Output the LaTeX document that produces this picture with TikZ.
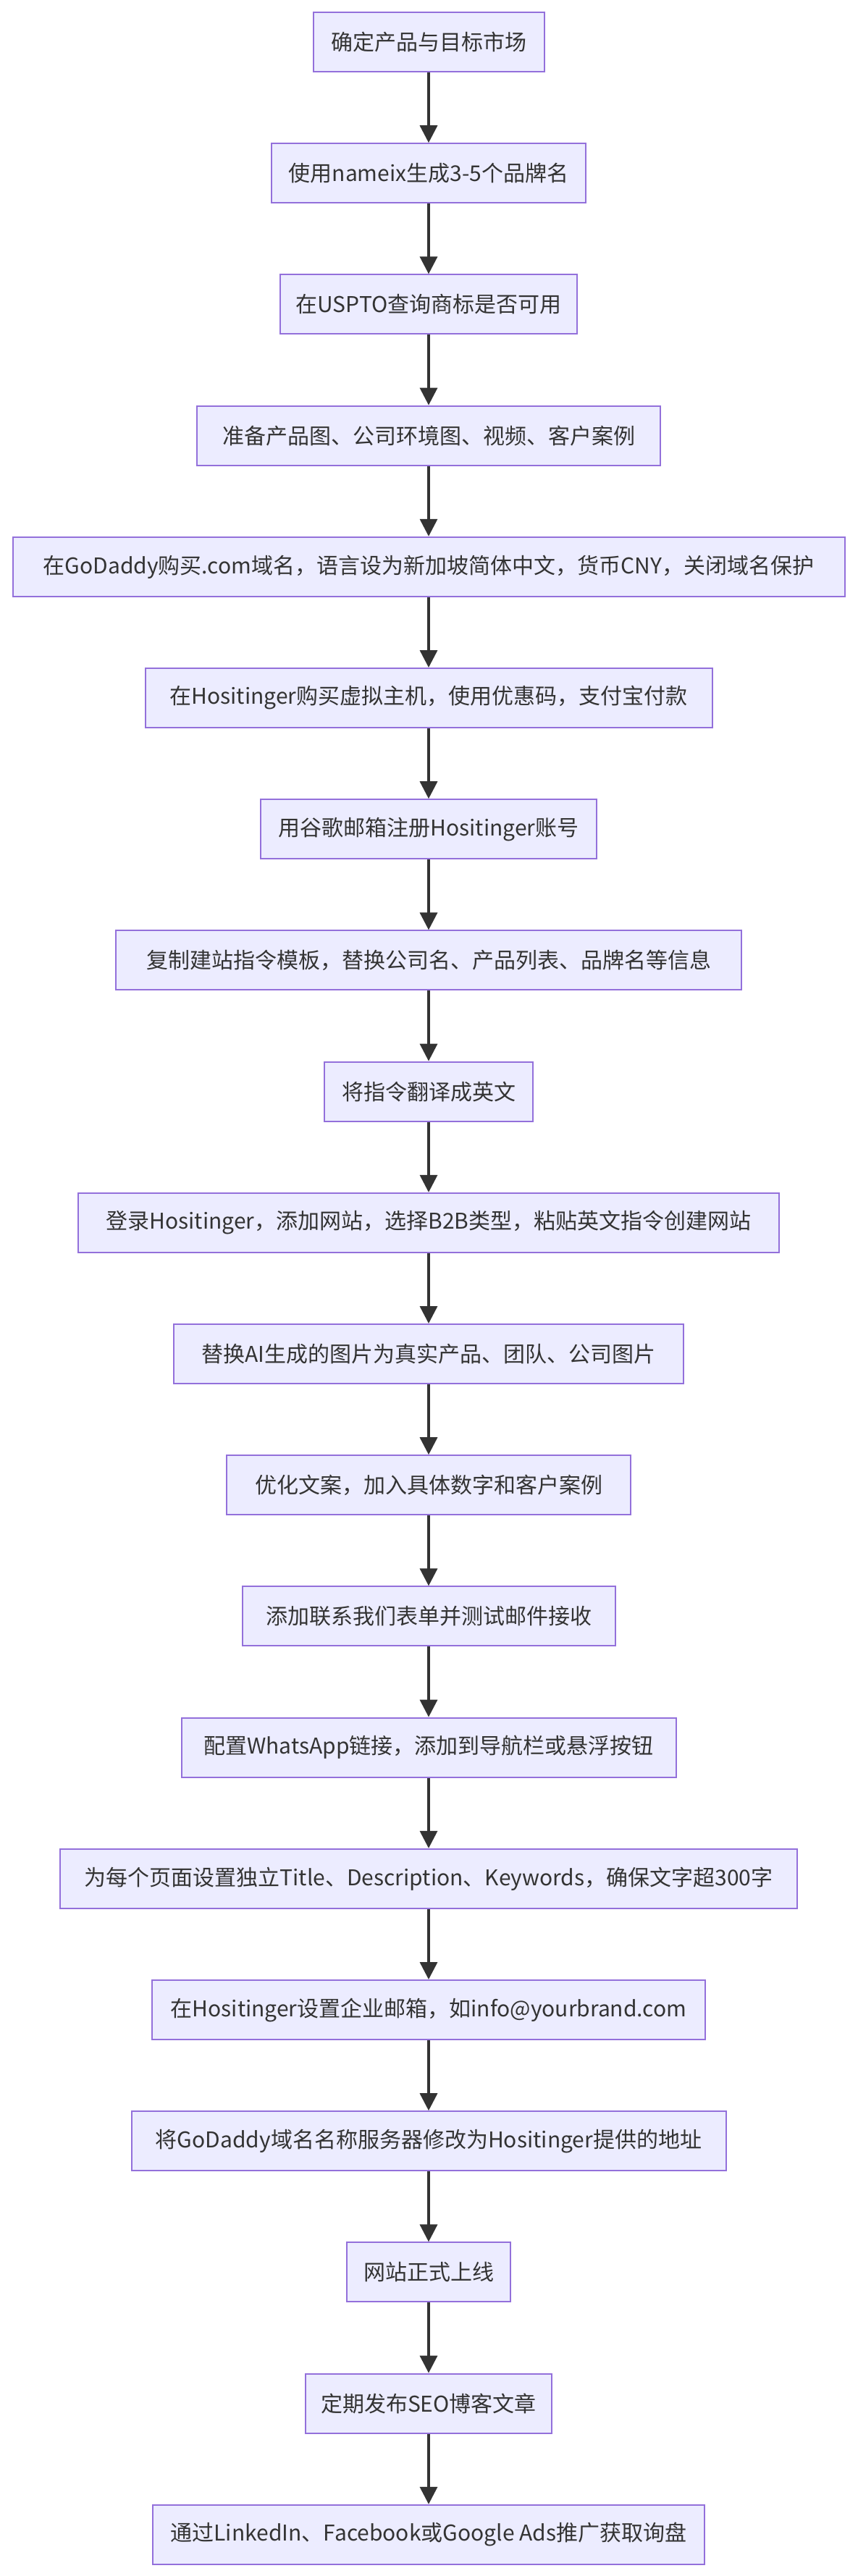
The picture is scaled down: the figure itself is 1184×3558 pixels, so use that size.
\documentclass[tikz,border=0pt]{standalone}
\usepackage{fontspec}
\setmainfont{Noto Sans CJK SC}
\usetikzlibrary{arrows.meta}
\definecolor{boxfill}{HTML}{ECECFF}
\definecolor{boxline}{HTML}{9370DB}
\definecolor{ink}{HTML}{333333}
\begin{document}
\begin{tikzpicture}[x=1pt,y=-1pt,
  stepbox/.style={draw=boxline, fill=boxfill, line width=2pt, minimum height=82pt,
    inner xsep=14pt, inner ysep=0pt, text=ink, font=\fontsize{30}{36}\selectfont, anchor=center},
  flow/.style={draw=ink, line width=3.5pt, -{Triangle[length=24pt,width=24pt]}}]
\useasboundingbox (0,0) rectangle (1184,3558);
\def\sp{181.2}
\node[stepbox, minimum width=319pt] (n1) at (592,{58+0*\sp}) {确定产品与目标市场};
\node[stepbox, minimum width=434pt] (n2) at (592,{58+1*\sp}) {使用nameix生成3-5个品牌名};
\node[stepbox, minimum width=410pt] (n3) at (592,{58+2*\sp}) {在USPTO查询商标是否可用};
\node[stepbox, minimum width=640pt] (n4) at (592,{58+3*\sp}) {准备产品图、公司环境图、视频、客户案例};
\node[stepbox, minimum width=1149pt] (n5) at (592,{58+4*\sp}) {在GoDaddy购买.com域名，语言设为新加坡简体中文，货币CNY，关闭域名保护};
\node[stepbox, minimum width=783pt] (n6) at (592,{58+5*\sp}) {在Hositinger购买虚拟主机，使用优惠码，支付宝付款};
\node[stepbox, minimum width=464pt] (n7) at (592,{58+6*\sp}) {用谷歌邮箱注册Hositinger账号};
\node[stepbox, minimum width=864pt] (n8) at (592,{58+7*\sp}) {复制建站指令模板，替换公司名、产品列表、品牌名等信息};
\node[stepbox, minimum width=288pt] (n9) at (592,{58+8*\sp}) {将指令翻译成英文};
\node[stepbox, minimum width=968pt] (n10) at (592,{58+9*\sp}) {登录Hositinger，添加网站，选择B2B类型，粘贴英文指令创建网站};
\node[stepbox, minimum width=704pt] (n11) at (592,{58+10*\sp}) {替换AI生成的图片为真实产品、团队、公司图片};
\node[stepbox, minimum width=558pt] (n12) at (592,{58+11*\sp}) {优化文案，加入具体数字和客户案例};
\node[stepbox, minimum width=515pt] (n13) at (592,{58+12*\sp}) {添加联系我们表单并测试邮件接收};
\node[stepbox, minimum width=683pt] (n14) at (592,{58+13*\sp}) {配置WhatsApp链接，添加到导航栏或悬浮按钮};
\node[stepbox, minimum width=1018pt] (n15) at (592,{58+14*\sp}) {为每个页面设置独立Title、Description、Keywords，确保文字超300字};
\node[stepbox, minimum width=764pt] (n16) at (592,{58+15*\sp}) {在Hositinger设置企业邮箱，如info@yourbrand.com};
\node[stepbox, minimum width=821pt] (n17) at (592,{58+16*\sp}) {将GoDaddy域名名称服务器修改为Hositinger提供的地址};
\node[stepbox, minimum width=226pt] (n18) at (592,{58+17*\sp}) {网站正式上线};
\node[stepbox, minimum width=340pt] (n19) at (592,{58+18*\sp}) {定期发布SEO博客文章};
\node[stepbox, minimum width=762pt] (n20) at (592,{58+19*\sp}) {通过LinkedIn、Facebook或Google Ads推广获取询盘};
\foreach \a/\b in {1/2,2/3,3/4,4/5,5/6,6/7,7/8,8/9,9/10,10/11,11/12,12/13,13/14,14/15,15/16,16/17,17/18,18/19,19/20}
  \draw[flow] (n\a.south) -- (n\b.north);
\end{tikzpicture}
\end{document}
